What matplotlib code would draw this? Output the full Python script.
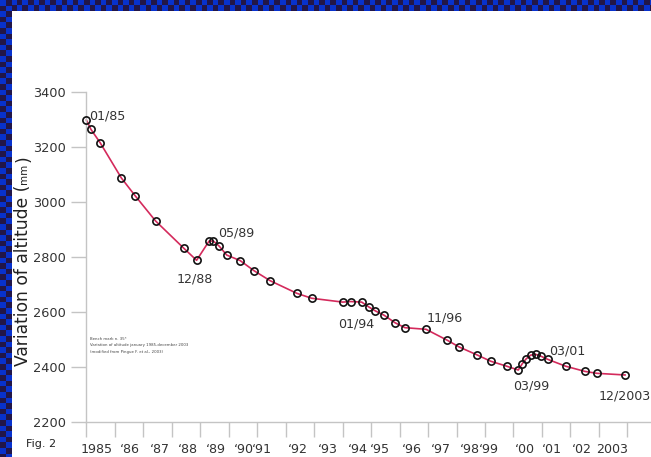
import numpy as np
import matplotlib
matplotlib.use("Agg")
import matplotlib.pyplot as plt
from matplotlib.ticker import FixedLocator, FixedFormatter, NullFormatter

# readings (decimal year, mm)
years = [1985.0, 1985.16, 1985.48, 1986.23, 1986.71, 1987.43, 1988.42, 1988.87,
         1989.31, 1989.46, 1989.66, 1989.93, 1990.4, 1990.89, 1991.45, 1992.39,
         1992.91, 1994.0, 1994.29, 1994.67, 1994.94, 1995.15, 1995.46, 1995.84,
         1996.19, 1996.93, 1997.68, 1998.09, 1998.72, 1999.2, 1999.76, 2000.17,
         2000.31, 2000.44, 2000.6, 2000.78, 2000.97, 2001.2, 2001.83, 2002.51,
         2002.93, 2003.92]
altitude = [3298, 3264, 3216, 3087, 3023, 2931, 2832, 2788,
            2858, 2858, 2840, 2807, 2787, 2750, 2714, 2668,
            2650, 2636, 2638, 2636, 2617, 2604, 2588, 2561,
            2543, 2537, 2497, 2473, 2444, 2421, 2403, 2389,
            2412, 2429, 2443, 2446, 2439, 2428, 2403, 2384,
            2377, 2371]

# point labels: text, x, y (left edge, vertical centre)
notes = [("01/85", 1985.09, 3313), ("05/89", 1989.61, 2889), ("12/88", 1988.15, 2720),
         ("01/94", 1993.85, 2556), ("11/96", 1996.93, 2580), ("03/99", 2000.0, 2332),
         ("03/01", 2001.24, 2460), ("12/2003", 2002.98, 2295)]

year_ticks = list(range(1985, 2005))
xlabel_pos = [1985.37, 1986.52, 1987.58, 1988.56, 1989.54, 1990.53, 1991.18, 1992.44,
              1993.47, 1994.53, 1995.3, 1996.42, 1997.44, 1998.48, 1999.14, 2000.41,
              2001.34, 2002.4, 2003.48]
xlabels = ["1985", "\u201886", "\u201887", "\u201888", "\u201889", "\u201890", "\u201891",
           "\u201892", "\u201893", "\u201894", "\u201895", "\u201896", "\u201897",
           "\u201898", "\u201899", "\u201800", "\u201801", "\u201802", "2003"]
yticks = [2200, 2400, 2600, 2800, 3000, 3200, 3400]

W, H = 651, 457
fig = plt.figure(figsize=(W / 100, H / 100), dpi=100)

# checkered border
bg = fig.add_axes([0, 0, 1, 1], zorder=-5)
bg.axis("off")
cell = 5.6
blue, navy = np.array([8, 50, 205]) / 255, np.array([34, 22, 72]) / 255
def checker(nr, nc):
    idx = (np.indices((nr, nc)).sum(axis=0) % 2)[..., None]
    return np.where(idx == 0, blue, navy)
nc_top = int(np.ceil(W / cell))
bg.imshow(checker(2, nc_top), extent=(0, nc_top * cell, 11, 0), interpolation="nearest", aspect="auto")
nr_left = int(np.ceil(H / cell))
bg.imshow(checker(nr_left, 2), extent=(0, 12, nr_left * cell, 0), interpolation="nearest", aspect="auto")
bg.set_xlim(0, W)
bg.set_ylim(H, 0)

gray = "#c4c4c4"
txt = "#333333"
x0, x1 = 86.4, 651
yb, yt = 422, 92
ax = fig.add_axes([x0 / W, (H - yb) / H, (x1 - x0) / W, (yb - yt) / H])
ax.set_xlim(1985, 1985 + (x1 - x0) / 28.47)
ax.set_ylim(2200, 3400)

ax.plot(years, altitude, color="#d42a5c", lw=1.2, zorder=2, clip_on=False)
ax.plot(years, altitude, ls="none", marker="o", ms=5.2, mfc="none", mec="#111111",
        mew=1.2, zorder=3, clip_on=False)

for t, xx, yy in notes:
    ax.text(xx, yy, t, fontsize=9.1, color=txt, ha="left", va="center")

for s in ["top", "right"]:
    ax.spines[s].set_visible(False)
for s in ["left", "bottom"]:
    ax.spines[s].set_color(gray)
    ax.spines[s].set_linewidth(1)

ax.set_yticks(yticks)
ax.set_yticklabels([str(v) for v in yticks])
ax.tick_params(axis="y", length=10.8, width=1, color=gray, labelsize=9.3,
               labelcolor=txt, pad=4)

ax.xaxis.set_major_locator(FixedLocator(year_ticks))
ax.xaxis.set_major_formatter(NullFormatter())
ax.xaxis.set_minor_locator(FixedLocator(xlabel_pos))
ax.xaxis.set_minor_formatter(FixedFormatter(xlabels))
ax.tick_params(axis="x", which="major", length=10.8, width=1, color=gray)
ax.tick_params(axis="x", which="minor", length=0, labelsize=9.1, labelcolor=txt, pad=15)

ax.text(90 / W, (H - 339) / H, "Bench mark n. 35*", transform=fig.transFigure,
        fontsize=2.8, color="#444444", va="center")
ax.text(90 / W, (H - 345) / H, "Variation of altitude january 1985-december 2003",
        transform=fig.transFigure, fontsize=2.8, color="#444444", va="center")
ax.text(90 / W, (H - 351.5) / H, "(modified from Pingue F. et al., 2003)",
        transform=fig.transFigure, fontsize=2.8, color="#444444", va="center")

fig.text(26 / W, (H - 444) / H, "Fig. 2", fontsize=8, color="#222222", va="center")

# y label with small "mm"
r = fig.canvas.get_renderer()
base_x = 28.5 / W
ystart = (H - 366) / H
t1 = fig.text(base_x, ystart, "Variation of altitude (", rotation=90, rotation_mode="anchor",
              ha="left", va="baseline", fontsize=12.3, color="#222222")
bb = t1.get_window_extent(r)
t2 = fig.text(base_x - 1.5 / W, bb.y1 / H + 1 / H, "mm", rotation=90, rotation_mode="anchor",
              ha="left", va="baseline", fontsize=7.5, color="#222222")
bb2 = t2.get_window_extent(r)
fig.text(base_x, bb2.y1 / H + 1 / H, ")", rotation=90, rotation_mode="anchor",
         ha="left", va="baseline", fontsize=12.3, color="#222222")

fig.savefig("out.png", dpi=100)
